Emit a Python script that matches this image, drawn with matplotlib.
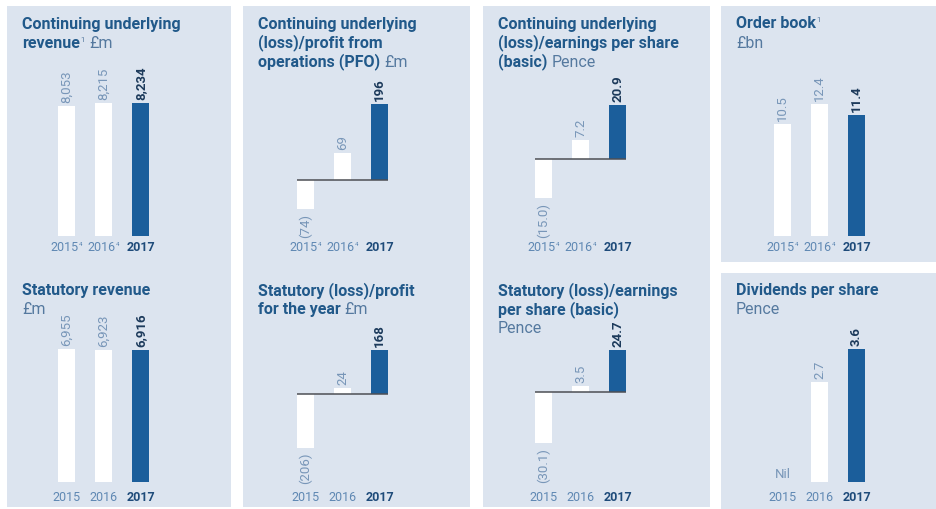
import matplotlib
matplotlib.use("Agg")
import matplotlib.pyplot as plt
from matplotlib.patches import Rectangle
from matplotlib.transforms import blended_transform_factory

W, H = 936, 510
plt.rcParams["font.family"] = ["Roboto", "DejaVu Sans"]

PANEL = "#dce4ef"
TITLE = "#21598a"
UNIT = "#55799f"
HILITE = "#1b5e9b"
VAL_LIGHT = "#7896b8"
VAL_DARK = "#1c3a5b"
YEAR_LIGHT = "#5f88b3"
YEAR_DARK = "#1e4b7a"

years_restated = ["2015", "2016", "2017"]
years = ["2015", "2016", "2017"]
restated_mark = "4"

revenue_underlying = [8053, 8215, 8234]
pfo_underlying = [-74, 69, 196]
eps_underlying = [-15.0, 7.2, 20.9]
order_book = [10.5, 12.4, 11.4]
revenue_statutory = [6955, 6923, 6916]
profit_statutory = [-206, 24, 168]
eps_statutory = [-30.1, 3.5, 24.7]
dividends = [0.0, 2.7, 3.6]

# title lines: list of (text, style) runs per line; style is bold / unit / sup
titles = [
    [[("Continuing underlying", "bold")],
     [("revenue", "bold"), ("1", "sup"), ("£m", "unit")]],
    [[("Continuing underlying", "bold")], [("(loss)/profit from", "bold")],
     [("operations (PFO)", "bold"), ("£m", "unit")]],
    [[("Continuing underlying", "bold")], [("(loss)/earnings per share", "bold")],
     [("(basic)", "bold"), ("Pence", "unit")]],
    [[("Order book", "bold"), ("1", "sup")], [("£bn", "unit")]],
    [[("Statutory revenue", "bold")], [("£m", "unit")]],
    [[("Statutory (loss)/profit", "bold")], [("for the year", "bold"), ("£m", "unit")]],
    [[("Statutory (loss)/earnings", "bold")], [("per share (basic)", "bold")],
     [("Pence", "unit")]],
    [[("Dividends per share", "bold")], [("Pence", "unit")]],
]

# (values, year labels, footnote on the prior years, decimals, column, row)
charts = [
    (revenue_underlying, years_restated, True, 0, 0, 0),
    (pfo_underlying, years_restated, True, 0, 1, 0),
    (eps_underlying, years_restated, True, 1, 2, 0),
    (order_book, years_restated, True, 1, 3, 0),
    (revenue_statutory, years, False, 0, 0, 1),
    (profit_statutory, years, False, 0, 1, 1),
    (eps_statutory, years, False, 1, 2, 1),
    (dividends, years, False, 1, 3, 1),
]

col_left = [7, 243, 483, 721]
col_right = [231, 470, 710, 936]
bar0_x = [66.5, 305.5, 543.5, 782.5]
step = 37
title_y = [24, 291]
title_x_pad = 15
year_y = [248, 498]
# pixel row of the zero line and of the tallest bar's end, per chart
zero_px = [237, 181, 160, 237, 483, 395, 393, 483]
peak_px = [104, 105, 106, 105, 350, 351, 351, 350]


def fmt(v, dec):
    if v == 0:
        return "Nil"
    s = f"{abs(v):,.{dec}f}"
    return f"({s})" if v < 0 else s


fig = plt.figure(figsize=(W / 100, H / 100), dpi=100)
bg = fig.add_axes([0, 0, 1, 1])
bg.set_xlim(0, W)
bg.set_ylim(H, 0)
bg.axis("off")

for c in range(3):
    bg.add_patch(Rectangle((col_left[c], 7), col_right[c] - col_left[c], 501,
                           color=PANEL, lw=0))
bg.add_patch(Rectangle((col_left[3], 7), col_right[3] - col_left[3], 256, color=PANEL, lw=0))
bg.add_patch(Rectangle((col_left[3], 274), col_right[3] - col_left[3], 236, color=PANEL, lw=0))

for k, (vals, labels, footnote, dec, col, row) in enumerate(charts):
    # titles, one text per run so weights can mix on a line
    y = title_y[row]
    for line in titles[k]:
        base, prev = None, None
        for text, style in line:
            if style == "sup":
                prev = bg.annotate(text, xy=(1, 1), xycoords=base, xytext=(1, -1),
                                   textcoords="offset pixels", va="top", ha="left",
                                   fontsize=5.5, color=UNIT)
                continue
            kw = dict(fontsize=11.5, color=TITLE if style == "bold" else UNIT,
                      fontweight="bold" if style == "bold" else "normal")
            if base is None:
                base = prev = bg.text(col_left[col] + title_x_pad, y, text,
                                      va="center", ha="left", **kw)
            else:
                prev = bg.annotate(text, xy=(1, 0), xycoords=(prev, base), xytext=(4, 0),
                                   textcoords="offset pixels", va="bottom", ha="left", **kw)
        y += 19

    # bar axes, scaled so the tallest bar ends at peak_px
    scale = (zero_px[k] - peak_px[k]) / max(vals)
    top, bot = peak_px[k] - 60, zero_px[k] + 70
    left = bar0_x[col] - step / 2
    ax = fig.add_axes([left / W, 1 - bot / H, 3 * step / W, (bot - top) / H])
    ax.set_xlim(-0.5, 2.5)
    ax.set_ylim((zero_px[k] - bot) / scale, (zero_px[k] - top) / scale)
    ax.axis("off")
    ax.patch.set_alpha(0)

    xs = range(len(vals))
    colors = ["white", "white", HILITE]
    ax.bar(xs, vals, width=0.46, color=colors, lw=0, zorder=2)
    if min(vals) < 0:
        ax.hlines(0, -0.23, 2.23, color="#4d4f55", lw=1.1, zorder=3)

    for i, v in enumerate(vals):
        last = i == len(vals) - 1
        kw = dict(fontsize=9.5, color=VAL_DARK if last else VAL_LIGHT,
                  fontweight="bold" if last else "normal", ha="center",
                  textcoords="offset pixels")
        if v > 0:
            ax.annotate(fmt(v, dec), (i, v), xytext=(0, 4), va="bottom", rotation=90, **kw)
        elif v < 0:
            ax.annotate(fmt(v, dec), (i, v), xytext=(0, -4), va="top", rotation=90, **kw)
        else:
            ax.annotate(fmt(v, dec), (i, v), xytext=(0, 2), va="bottom", **kw)

    tr = blended_transform_factory(ax.transData, bg.transData)
    for i, lab in enumerate(labels):
        last = i == len(labels) - 1
        t = ax.text(i - (0.06 if footnote and not last else 0), year_y[row], lab,
                    transform=tr, ha="center", va="center",
                    fontsize=9, color=YEAR_DARK if last else YEAR_LIGHT,
                    fontweight="bold" if last else "normal")
        if footnote and not last:
            ax.annotate(restated_mark, xy=(1, 1), xycoords=t, xytext=(1, -1),
                        textcoords="offset pixels", va="top", ha="left",
                        fontsize=4.5, color=YEAR_LIGHT)

fig.savefig("out.png", dpi=100)
